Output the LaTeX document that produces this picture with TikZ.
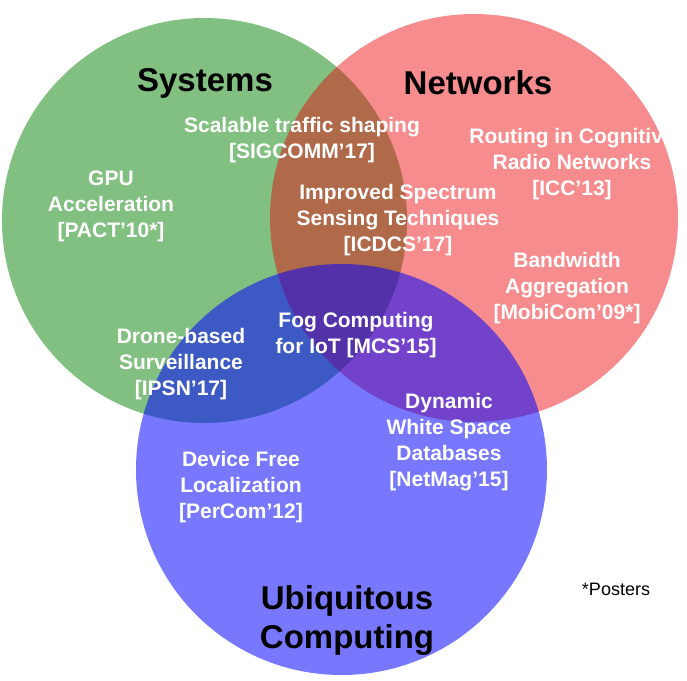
\documentclass[tikz,border=0pt]{standalone}
\usepackage{fontspec}
\setmainfont{Liberation Sans}
\usepackage{tikz}
\usetikzlibrary{positioning}
\definecolor{verdeSis}{RGB}{130,192,130}
\definecolor{rojoRed}{RGB}{234,0,4}
\definecolor{azulUbi}{RGB}{0,0,255}
\tikzstyle{area}=[circle, inner sep=0pt, outer sep=0pt]
\tikzstyle{titulo}=[font=\fontsize{33}{39}\selectfont\bfseries,
                    align=center, text=black, inner sep=0pt]
\tikzstyle{trabajo}=[font=\fontsize{21}{26}\selectfont\bfseries,
                    align=center, text=white, inner sep=0pt]
\tikzstyle{nota}=[font=\fontsize{18}{22}\selectfont,
                    text=black, inner sep=0pt]
\begin{document}
\begin{tikzpicture}[x=1pt,y=-1pt]
        \useasboundingbox (0,0) rectangle (687,680);

        % los tres conjuntos
        \draw (204.5,220.5) node(sys)[area,fill=verdeSis,minimum size=405pt]{};
        \draw (474,218) node(net)[area,fill=rojoRed,fill opacity=0.45,minimum size=408pt]{};
        \draw (341.5,469.5) node(ubi)[area,fill=azulUbi,fill opacity=0.53,minimum size=411pt]{};

        % titulos
        \draw (205,83) node(tsys)[titulo]{Systems};
        \draw (478,83) node(tnet)[titulo]{Networks};
        \draw (347,621) node(tubi)[titulo]{Ubiquitous\\Computing};

        % trabajos
        \draw (111,206) node(gpu)[trabajo]{GPU\\Acceleration\\{[PACT’10*]}};
        \draw (302,140) node(shaping)[trabajo]{Scalable traffic shaping\\{[SIGCOMM’17]}};
        \draw (572,164) node(routing)[trabajo]{Routing in Cognitive\\Radio Networks\\{[ICC’13]}};
        \draw (398,220) node(spectrum)[trabajo]{Improved Spectrum\\Sensing Techniques\\{[ICDCS’17]}};
        \draw (567,288) node(bandwidth)[trabajo]{Bandwidth\\Aggregation\\{[MobiCom’09*]}};
        \draw (356,335) node(fog)[trabajo]{Fog Computing\\for IoT [MCS’15]};
        \draw (181,364) node(drone)[trabajo]{Drone-based\\Surveillance\\{[IPSN’17]}};
        \draw (449,442) node(whitespace)[trabajo]{Dynamic\\White Space\\Databases\\{[NetMag’15]}};
        \draw (241,487) node(device)[trabajo]{Device Free\\Localization\\{[PerCom’12]}};

        \draw (616,589) node(posters)[nota]{*Posters};

    \end{tikzpicture}
\end{document}
